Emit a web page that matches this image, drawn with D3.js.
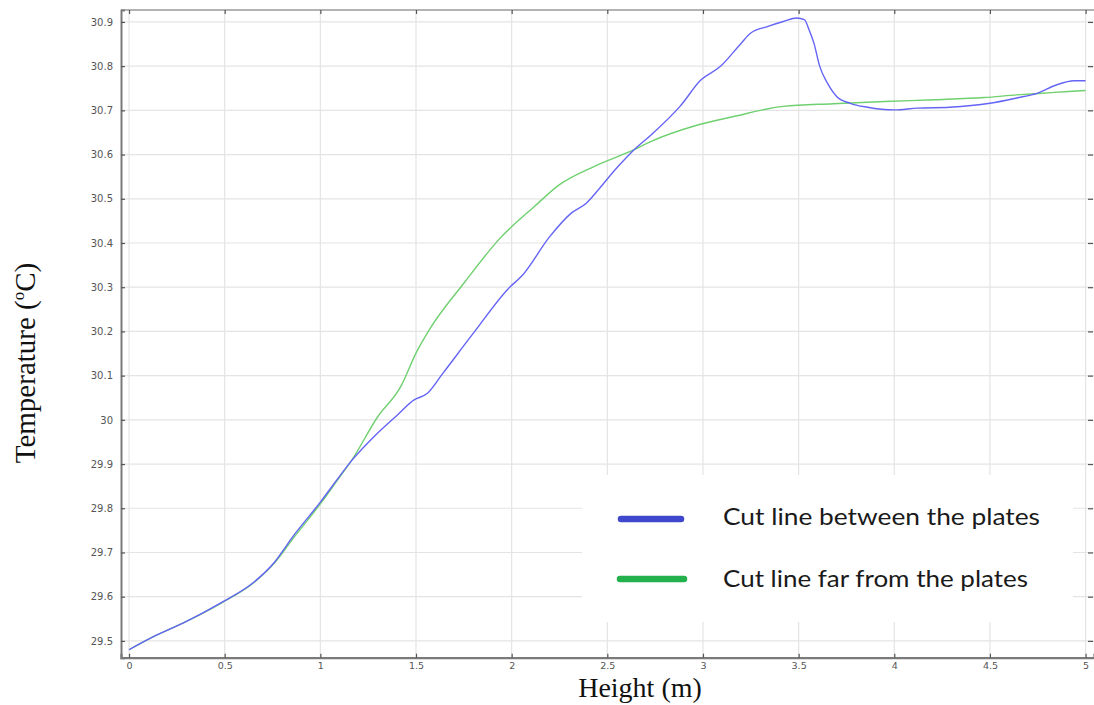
<!DOCTYPE html>
<html>
<head>
<meta charset="utf-8">
<script src="https://cdn.jsdelivr.net/npm/d3@7/dist/d3.min.js"></script>
<style>
  html, body { margin: 0; padding: 0; background: #fff; }
  svg { display: block; }
</style>
</head>
<body>
<svg id="chart" width="1094" height="705"></svg>
<script>
// Temperature profiles along two vertical cut lines
const heightBetween = [0, 0.13, 0.3, 0.48, 0.65, 0.76, 0.86, 1.0, 1.1, 1.16, 1.28, 1.4, 1.49, 1.56, 1.64, 1.8, 1.99, 2.05, 2.2, 2.31, 2.39, 2.46, 2.55, 2.64, 2.73, 2.88, 2.99, 3.09, 3.2, 3.25, 3.34, 3.42, 3.49, 3.53, 3.555, 3.58, 3.61, 3.65, 3.7, 3.77, 3.86, 4.0, 4.12, 4.29, 4.5, 4.64, 4.75, 4.85, 4.94, 5.0];
const tempBetween = [29.48, 29.51, 29.544, 29.586, 29.632, 29.678, 29.738, 29.814, 29.872, 29.906, 29.962, 30.01, 30.045, 30.06, 30.105, 30.196, 30.3, 30.324, 30.415, 30.467, 30.49, 30.524, 30.57, 30.611, 30.645, 30.709, 30.769, 30.799, 30.852, 30.875, 30.89, 30.901, 30.909, 30.905, 30.882, 30.852, 30.8, 30.762, 30.731, 30.716, 30.707, 30.701, 30.705, 30.707, 30.716, 30.728, 30.739, 30.758, 30.767, 30.767];

const heightFar = [0, 0.13, 0.3, 0.48, 0.65, 0.76, 0.86, 1.0, 1.1, 1.16, 1.3, 1.42, 1.5, 1.57, 1.75, 1.94, 2.12, 2.25, 2.43, 2.64, 2.73, 2.95, 3.16, 3.42, 3.68, 3.95, 4.21, 4.47, 4.64, 4.82, 5.0];
const tempFar = [29.48, 29.51, 29.544, 29.585, 29.631, 29.676, 29.733, 29.81, 29.87, 29.906, 30.007, 30.075, 30.151, 30.204, 30.309, 30.411, 30.483, 30.532, 30.573, 30.611, 30.63, 30.664, 30.686, 30.709, 30.715, 30.72, 30.724, 30.729, 30.735, 30.74, 30.745];

const xTicks = [0, 0.5, 1, 1.5, 2, 2.5, 3, 3.5, 4, 4.5, 5];
const yTicks = [29.5, 29.6, 29.7, 29.8, 29.9, 30.0, 30.1, 30.2, 30.3, 30.4, 30.5, 30.6, 30.7, 30.8, 30.9];

const seriesNames = ["Cut line between the plates", "Cut line far from the plates"];
const xTitle = "Height (m)";

const svg = d3.select("#chart");
const plotLeft = 121, plotRight = 1094, plotTop = 10, plotBottom = 657.7;

const x = d3.scaleLinear().domain([-0.042, 5.044]).range([plotLeft, plotRight]);
const y = d3.scaleLinear().domain([29.462, 30.927]).range([plotBottom, plotTop]);

// grid
const grid = svg.append("g");
grid.selectAll("line.gx").data(xTicks).join("line")
  .attr("x1", d => x(d)).attr("x2", d => x(d))
  .attr("y1", plotTop).attr("y2", plotBottom)
  .attr("stroke", "#e4e4e4").attr("stroke-width", 1.2);
grid.selectAll("line.gy").data(yTicks).join("line")
  .attr("x1", plotLeft).attr("x2", plotRight)
  .attr("y1", d => y(d)).attr("y2", d => y(d))
  .attr("stroke", "#e4e4e4").attr("stroke-width", 1.2);

// legend background hides the grid underneath
svg.append("rect")
  .attr("x", 582).attr("y", 475).attr("width", 491).attr("height", 147)
  .attr("fill", "#fff");

// frame
svg.append("line").attr("x1", plotLeft).attr("x2", plotRight).attr("y1", plotTop).attr("y2", plotTop)
  .attr("stroke", "#9a9a9a").attr("stroke-width", 1.5);

// axes with inward ticks
const fmtY = d => String(+d.toFixed(1));
const fmtX = d => String(d);

const yAxis = d3.axisLeft(y).tickValues(yTicks).tickFormat(fmtY).tickSize(-4).tickPadding(8);
const gy = svg.append("g").attr("transform", `translate(${plotLeft},0)`).call(yAxis);
const xAxis = d3.axisBottom(x).tickValues(xTicks).tickFormat(fmtX).tickSize(-4).tickPadding(5);
const gx = svg.append("g").attr("transform", `translate(0,${plotBottom})`).call(xAxis);
const xTop = d3.axisTop(x).tickValues(xTicks).tickFormat("").tickSize(-4);
const gxt = svg.append("g").attr("transform", `translate(0,${plotTop})`).call(xTop);
const yRight = d3.axisRight(y).tickValues(yTicks).tickFormat("").tickSize(-5);
const gyr = svg.append("g").attr("transform", `translate(${plotRight - 1},0)`).call(yRight);

[gy, gx, gxt, gyr].forEach(g => {
  g.selectAll(".tick line").attr("stroke", "#555").attr("stroke-width", 1.2);
  g.selectAll("text").attr("fill", "#555").attr("font-family", "DejaVu Sans, sans-serif").attr("font-size", 10);
});
gx.selectAll("text").attr("font-size", 9.5);
gxt.select(".domain").remove();
gyr.select(".domain").remove();
gy.select(".domain").attr("stroke", "#7a7a7a").attr("stroke-width", 2);
gx.select(".domain").attr("stroke", "#7a7a7a").attr("stroke-width", 2.2);

// curves
const line = d3.line().x(d => x(d[0])).y(d => y(d[1])).curve(d3.curveMonotoneX);
const farPts = heightFar.map((h, i) => [h, tempFar[i]]);
const betweenPts = heightBetween.map((h, i) => [h, tempBetween[i]]);

svg.append("path").attr("d", line(farPts))
  .attr("fill", "none").attr("stroke", "#6fd06f").attr("stroke-width", 1.4);
svg.append("path").attr("d", line(betweenPts))
  .attr("fill", "none").attr("stroke", "#6464f5").attr("stroke-width", 1.4);

// legend
const legendColors = ["#3f48cc", "#22b14c"];
const legend = svg.append("g");
const legendRows = [
  { x1: 621, x2: 681, ly: 519, ty: 525, tl: 317 },
  { x1: 620, x2: 684, ly: 579, ty: 587, tl: 305 }
];
legendRows.forEach((r, i) => {
  legend.append("line")
    .attr("x1", r.x1).attr("x2", r.x2).attr("y1", r.ly).attr("y2", r.ly)
    .attr("stroke", legendColors[i]).attr("stroke-width", 6.5).attr("stroke-linecap", "round");
  legend.append("text")
    .attr("x", 723).attr("y", r.ty)
    .attr("font-family", "Lato, 'Open Sans', sans-serif").attr("font-size", 23)
    .attr("fill", "#1a1a1a")
    .attr("textLength", r.tl).attr("lengthAdjust", "spacingAndGlyphs")
    .text(seriesNames[i]);
});

// axis titles
svg.append("text")
  .attr("x", 640).attr("y", 697)
  .attr("text-anchor", "middle")
  .attr("font-family", "'Liberation Serif', 'Times New Roman', serif")
  .attr("font-size", 28).attr("fill", "#111")
  .text(xTitle);

const yt = svg.append("text")
  .attr("transform", "translate(35,363) rotate(-90)")
  .attr("text-anchor", "middle")
  .attr("font-family", "'Liberation Serif', 'Times New Roman', serif")
  .attr("font-size", 29).attr("fill", "#111");
yt.append("tspan").text("Temperature (");
yt.append("tspan").attr("font-size", 17).attr("dy", -11).text("o");
yt.append("tspan").attr("dy", 11).text("C)");
</script>
</body>
</html>
